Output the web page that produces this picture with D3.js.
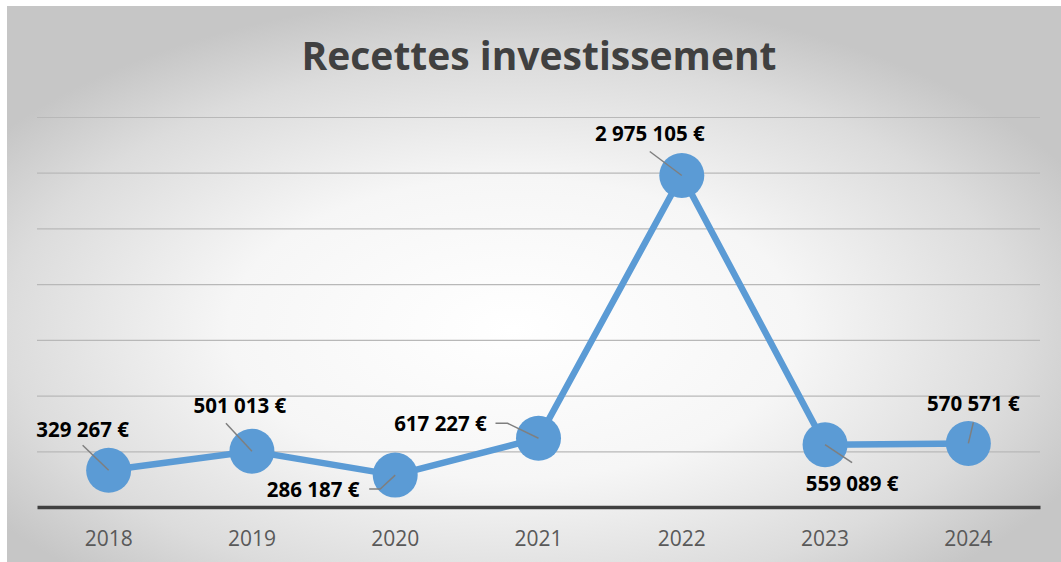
<!DOCTYPE html>
<html>
<head>
<meta charset="utf-8">
<script src="https://cdn.jsdelivr.net/npm/d3@7"></script>
<style>
  html, body { margin: 0; padding: 0; background: #fff; }
  svg { display: block; }
</style>
</head>
<body>
<div id="chart"></div>
<script>
// data
var years = ["2018", "2019", "2020", "2021", "2022", "2023", "2024"];
var values = [329267, 501013, 286187, 617227, 2975105, 559089, 570571];
var gridTicks = [0, 500000, 1000000, 1500000, 2000000, 2500000, 3000000, 3500000];

// where each data label sits relative to its point (dx, dy = baseline centre)
// lx/ly = leader start, bx = optional horizontal bend
var labelPlace = [
  {dx: -26, dy: -33, lx: -26, ly: -25, bx: null},
  {dx: -12, dy: -38, lx: -26, ly: -28, bx: null},
  {dx: -82, dy: 22,  lx: -26, ly: 14,  bx: -15},
  {dx: -98, dy: -7,  lx: -43, ly: -15, bx: -31},
  {dx: -32, dy: -34, lx: -32, ly: -24, bx: null},
  {dx: 27,  dy: 46,  lx: 27,  ly: 18,  bx: null},
  {dx: 5,   dy: -32, lx: 5,   ly: -21, bx: null}
];

var width = 1061, height = 562;
var margin = {left: 37, right: 21, top: 117, bottom: 55};

var svg = d3.select("#chart")
  .append("svg")
  .attr("width", width)
  .attr("height", height);

var defs = svg.append("defs");
var grad = defs.append("radialGradient")
  .attr("id", "bg")
  .attr("cx", "48%").attr("cy", "58%").attr("r", "60%");
grad.append("stop").attr("offset", "0%").attr("stop-color", "#ffffff");
grad.append("stop").attr("offset", "45%").attr("stop-color", "#f6f6f6");
grad.append("stop").attr("offset", "80%").attr("stop-color", "#dcdcdc");
grad.append("stop").attr("offset", "100%").attr("stop-color", "#c6c6c6");

svg.append("rect")
  .attr("x", 7).attr("y", 6)
  .attr("width", width - 7).attr("height", height - 6)
  .attr("fill", "url(#bg)");

svg.append("text")
  .attr("x", 539)
  .attr("y", 70)
  .attr("text-anchor", "middle")
  .attr("textLength", 475)
  .attr("lengthAdjust", "spacingAndGlyphs")
  .style("font-family", "'Open Sans', sans-serif")
  .style("font-weight", "bold")
  .style("font-size", "39px")
  .style("fill", "#404040")
  .text("Recettes investissement");

var x = d3.scaleBand()
  .domain(years)
  .range([margin.left, width - margin.right]);

var y = d3.scaleLinear()
  .domain([0, 3500000])
  .range([height - margin.bottom, margin.top]);

// gridlines
svg.append("g")
  .selectAll("line")
  .data(gridTicks.slice(1))
  .enter()
  .append("line")
    .attr("x1", margin.left)
    .attr("x2", width - margin.right)
    .attr("y1", function(d){ return y(d) + 0.5 })
    .attr("y2", function(d){ return y(d) + 0.5 })
    .attr("stroke", "#b8b8b8")
    .attr("stroke-width", 1.2);

// x axis
var xAxis = svg.append("g")
  .attr("transform", "translate(0," + y(0) + ")")
  .call(d3.axisBottom(x).tickSize(0).tickPadding(24));
xAxis.select(".domain")
  .attr("stroke", "#404040")
  .attr("stroke-width", 3.5);
xAxis.selectAll("text")
  .style("font-family", "'Open Sans', sans-serif")
  .style("font-size", "21px")
  .style("fill", "#595959");

var cx = function(i){ return x(years[i]) + x.bandwidth() / 2 };

var line = d3.line()
  .x(function(d, i){ return cx(i) })
  .y(function(d){ return y(d) });

svg.append("path")
  .datum(values)
  .attr("d", line)
  .attr("fill", "none")
  .attr("stroke", "#5b9bd5")
  .attr("stroke-width", 6.5)
  .attr("stroke-linejoin", "round");

svg.append("g")
  .selectAll("circle")
  .data(values)
  .enter()
  .append("circle")
    .attr("cx", function(d, i){ return cx(i) })
    .attr("cy", function(d){ return y(d) })
    .attr("r", 22.5)
    .attr("fill", "#5b9bd5");

// leader lines
svg.append("g")
  .selectAll("path")
  .data(values)
  .enter()
  .append("path")
    .attr("d", function(d, i){
      var p = labelPlace[i], px = cx(i), py = y(d);
      var s = "M" + (px + p.lx) + "," + (py + p.ly);
      if (p.bx !== null) s += "L" + (px + p.bx) + "," + (py + p.ly);
      return s + "L" + px + "," + py;
    })
    .attr("fill", "none")
    .attr("stroke", "#7f7f7f")
    .attr("stroke-width", 1.5);

// data labels
var fmt = function(v){
  return d3.format(",")(v).replace(/,/g, " ") + " €";
};

svg.append("g")
  .selectAll("text")
  .data(values)
  .enter()
  .append("text")
    .attr("x", function(d, i){ return cx(i) + labelPlace[i].dx })
    .attr("y", function(d, i){ return y(d) + labelPlace[i].dy })
    .attr("text-anchor", "middle")
    .style("font-family", "'Open Sans', sans-serif")
    .style("font-weight", "bold")
    .style("font-size", "20.5px")
    .style("fill", "#000")
    .text(function(d){ return fmt(d) });
</script>
</body>
</html>
